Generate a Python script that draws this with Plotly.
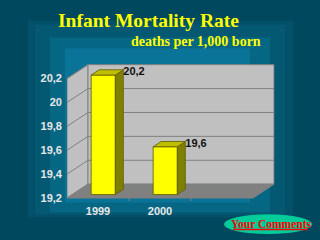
import plotly.graph_objects as go

# ---- data ----
years = ["1999", "2000"]
rates = [20.2, 19.6]
rate_labels = ["20,2", "19,6"]
y_ticks = [19.2, 19.4, 19.6, 19.8, 20.0, 20.2]
y_tick_labels = ["19,2", "19,4", "19,6", "19,8", "20", "20,2"]
n_slots = 3  # category slots on the axis (last one empty)

title = "Infant Mortality Rate"
subtitle = "deaths per 1,000 born"
button_text = "Your Comments"

# ---- geometry / style ----
W, H = 320, 240
PX_X = 62.0    # px per category
PX_Y = 121.0   # px per value unit
DX = 21 / PX_X  # full depth offset in category units
DY = 14 / PX_Y  # full depth offset in value units
F_D, B_D = 0.25, 0.63  # bar front / back depth fraction
BW = 0.39
Y0 = y_ticks[0]
Y1 = y_ticks[-1]

x_lo = -0.5
x_hi = n_slots - 0.5 + DX + 0.01
y_lo = Y0 - 0.025
y_hi = Y1 + DY + 0.02
ax_left = 67.0
ax_right = ax_left + (x_hi - x_lo) * PX_X
y_px_base = 200.5
ax_bottom = y_px_base + (Y0 - y_lo) * PX_Y
ax_top = y_px_base - (y_hi - Y0) * PX_Y

fig = go.Figure()

shapes = []
# background bands
bands = [
    ((28, 21, 293, 220), "#02506a"),
    ((35, 25, 285, 217), "#045871"),
    ((50, 38, 270, 215), "#066784"),
    ((65, 49, 250, 205), "#0a7498"),
]
for (x0, y0, x1, y1), c in bands:
    shapes.append(dict(type="rect", xref="paper", yref="paper", layer="below",
                       x0=x0 / W, x1=x1 / W, y0=1 - y1 / H, y1=1 - y0 / H,
                       fillcolor=c, line=dict(width=0)))

xl, xr = x_lo, n_slots - 0.5
wall_c = "#c0c0c0"
grid_c = "#808080"
# left wall
shapes.append(dict(type="path", xref="x", yref="y", layer="below",
                   path=f"M{xl},{Y0} L{xl+DX},{Y0+DY} L{xl+DX},{Y1+DY} L{xl},{Y1} Z",
                   fillcolor=wall_c, line=dict(color=grid_c, width=1)))
# back wall
shapes.append(dict(type="path", xref="x", yref="y", layer="below",
                   path=f"M{xl+DX},{Y0+DY} L{xr+DX},{Y0+DY} L{xr+DX},{Y1+DY} L{xl+DX},{Y1+DY} Z",
                   fillcolor=wall_c, line=dict(color=grid_c, width=1)))
# floor
shapes.append(dict(type="path", xref="x", yref="y", layer="below",
                   path=f"M{xl},{Y0} L{xr},{Y0} L{xr+DX},{Y0+DY} L{xl+DX},{Y0+DY} Z",
                   fillcolor="#808080", line=dict(color="#808080", width=1)))
# gridlines
for t in y_ticks[1:-1]:
    shapes.append(dict(type="line", xref="x", yref="y", layer="below",
                       x0=xl + DX, x1=xr + DX, y0=t + DY, y1=t + DY,
                       line=dict(color=grid_c, width=1)))
for t in y_ticks[1:]:
    shapes.append(dict(type="line", xref="x", yref="y", layer="below",
                       x0=xl, x1=xl + DX, y0=t, y1=t + DY,
                       line=dict(color=grid_c, width=1)))
# category boundary ticks
for k in range(1, n_slots):
    shapes.append(dict(type="line", xref="x", yref="y", layer="below",
                       x0=k - 0.5, x1=k - 0.5, y0=Y0, y1=Y0 - 3 / PX_Y,
                       line=dict(color=grid_c, width=1)))
# button
shapes.append(dict(type="circle", xref="paper", yref="paper",
                   x0=224 / W, x1=312 / W, y0=1 - 237 / H, y1=1 - 217 / H,
                   fillcolor="#00cc99", line=dict(width=0)))
# button text underline
shapes.append(dict(type="line", xref="paper", yref="paper",
                   x0=233 / W, x1=308 / W, y0=1 - 232.5 / H, y1=1 - 232.5 / H,
                   line=dict(color="#ff0000", width=1.5)))

# bars: front face
xs = list(range(len(years)))
fig.add_trace(go.Bar(
    x=[i + F_D * DX for i in xs], y=[v - Y0 for v in rates],
    base=[Y0 + F_D * DY] * len(rates), width=BW,
    marker=dict(color="#ffff00", line=dict(color="#5a5a00", width=0.8)),
    hoverinfo="skip", showlegend=False))
# side and top faces
for i, v in zip(xs, rates):
    bl, br = i - BW / 2, i + BW / 2
    sx = [br + F_D * DX, br + B_D * DX, br + B_D * DX, br + F_D * DX, br + F_D * DX]
    sy = [Y0 + F_D * DY, Y0 + B_D * DY, v + B_D * DY, v + F_D * DY, Y0 + F_D * DY]
    fig.add_trace(go.Scatter(x=sx, y=sy, mode="lines", fill="toself",
                             fillcolor="#808000", line=dict(color="#5a5a00", width=0.8),
                             hoverinfo="skip", showlegend=False))
    tx = [bl + F_D * DX, br + F_D * DX, br + B_D * DX, bl + B_D * DX, bl + F_D * DX]
    ty = [v + F_D * DY, v + F_D * DY, v + B_D * DY, v + B_D * DY, v + F_D * DY]
    fig.add_trace(go.Scatter(x=tx, y=ty, mode="lines", fill="toself",
                             fillcolor="#bfbf00", line=dict(color="#5a5a00", width=0.8),
                             hoverinfo="skip", showlegend=False))
# value labels
fig.add_trace(go.Scatter(
    x=[i + BW / 2 + B_D * DX for i in xs],
    y=[v + (F_D + B_D) / 2 * DY for v in rates],
    mode="text", text=rate_labels, textposition="middle right",
    textfont=dict(family="Liberation Sans", size=11, color="#101010", weight="bold"),
    hoverinfo="skip", showlegend=False, cliponaxis=False))

annotations = [
    dict(text=title, xref="paper", yref="paper",
         x=148.5 / W, y=1 - 21 / H, xanchor="center", yanchor="middle", showarrow=False,
         font=dict(family="Liberation Serif", size=19.5, color="#ffff00", weight="bold")),
    dict(text=subtitle, xref="paper", yref="paper",
         x=196 / W, y=1 - 42.5 / H, xanchor="center", yanchor="middle", showarrow=False,
         font=dict(family="Liberation Serif", size=14, color="#ffff00", weight="bold")),
    dict(text=button_text, xref="paper", yref="paper",
         x=270.5 / W, y=1 - 226.5 / H, xanchor="center", yanchor="middle", showarrow=False,
         font=dict(family="Liberation Serif", size=11.5, color="#ff0000", weight="bold")),
]

fig.update_layout(
    width=W, height=H, margin=dict(l=0, r=0, t=0, b=0),
    paper_bgcolor="#00485e", plot_bgcolor="rgba(0,0,0,0)",
    shapes=shapes, annotations=annotations, showlegend=False,
    xaxis=dict(domain=[ax_left / W, ax_right / W], range=[x_lo, x_hi],
               tickvals=xs, ticktext=years, ticks="", showgrid=False,
               zeroline=False, showline=False, ticklabelstandoff=2,
               tickfont=dict(family="Liberation Sans", size=11, color="#e8e8e8", weight="bold")),
    yaxis=dict(domain=[1 - ax_bottom / H, 1 - ax_top / H], range=[y_lo, y_hi],
               tickvals=y_ticks, ticktext=y_tick_labels, ticks="", showgrid=False,
               zeroline=False, showline=False, ticklabelstandoff=4,
               tickfont=dict(family="Liberation Sans", size=11, color="#e8e8e8", weight="bold")),
)

fig.write_html("out.html")
